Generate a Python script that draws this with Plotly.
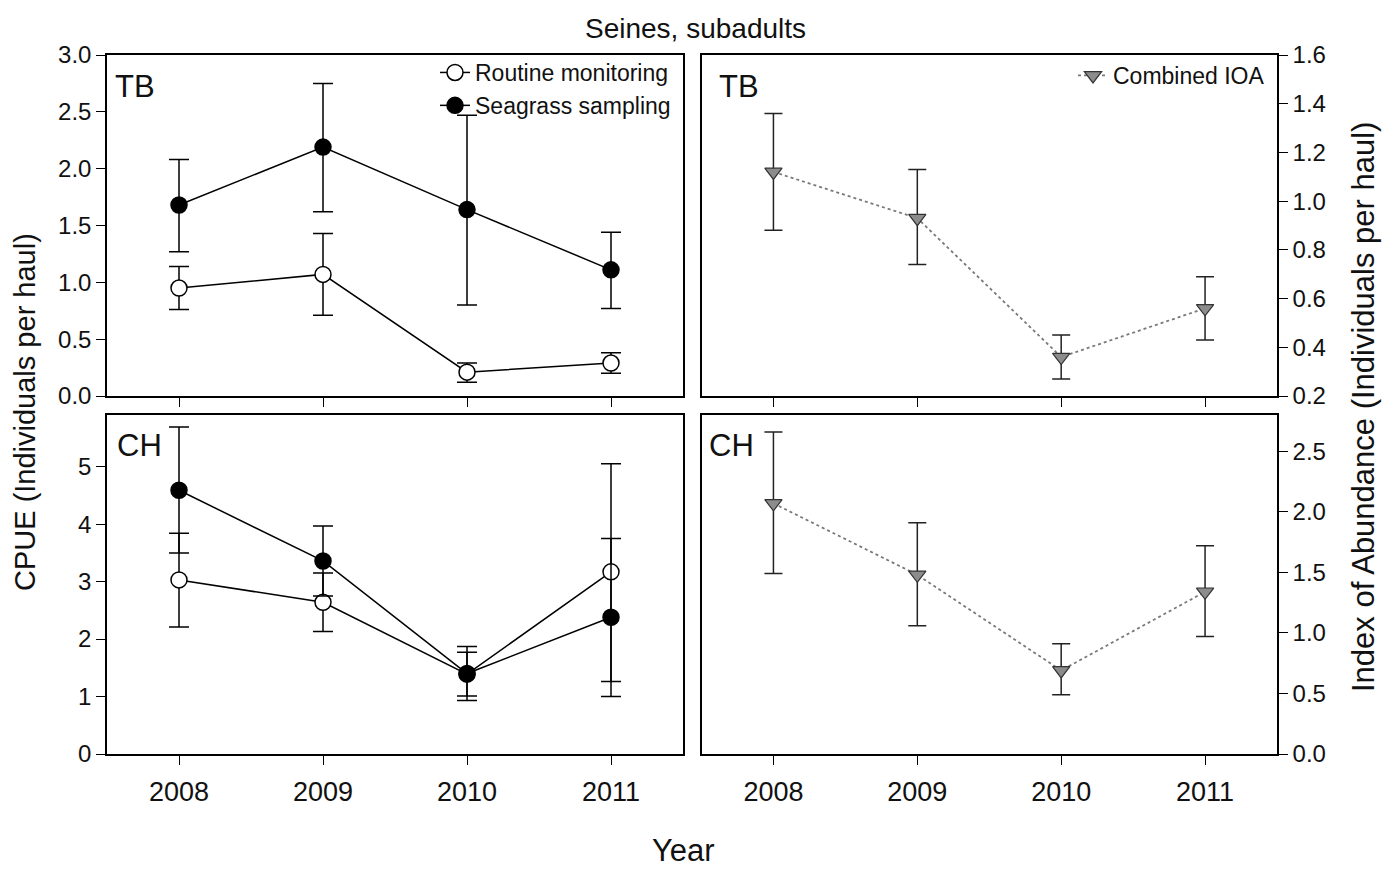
import plotly.graph_objects as go

W, H = 1382, 870
FONT = "Liberation Sans, Arial, Helvetica, sans-serif"

years = [2008, 2009, 2010, 2011]

# Tampa Bay (TB) CPUE
tb_routine = [0.95, 1.07, 0.21, 0.29]
tb_routine_up = [0.19, 0.36, 0.08, 0.09]
tb_routine_dn = [0.19, 0.36, 0.09, 0.09]
tb_seagrass = [1.68, 2.19, 1.64, 1.11]
tb_seagrass_up = [0.40, 0.56, 0.83, 0.33]
tb_seagrass_dn = [0.41, 0.57, 0.84, 0.34]

# Charlotte Harbor (CH) CPUE
ch_routine = [3.03, 2.64, 1.39, 3.17]
ch_routine_up = [0.81, 0.51, 0.38, 1.88]
ch_routine_dn = [0.82, 0.51, 0.38, 1.91]
ch_seagrass = [4.59, 3.36, 1.40, 2.38]
ch_seagrass_up = [1.10, 0.61, 0.47, 1.37]
ch_seagrass_dn = [1.09, 0.61, 0.47, 1.38]

# Combined index of abundance
tb_ioa = [1.12, 0.93, 0.36, 0.56]
tb_ioa_up = [0.24, 0.20, 0.09, 0.13]
tb_ioa_dn = [0.24, 0.19, 0.09, 0.13]
ch_ioa = [2.07, 1.48, 0.69, 1.34]
ch_ioa_up = [0.59, 0.43, 0.22, 0.38]
ch_ioa_dn = [0.58, 0.42, 0.20, 0.37]

# ---- layout geometry (pixels) ----
def fx(px):
    return px / W

def fy(py):
    return 1 - py / H

L_X = [fx(107), fx(683)]
R_X = [fx(701.5), fx(1277)]
T_Y = [fy(396), fy(55)]
B_Y = [fy(754), fy(415)]

fig = go.Figure()

def err(up, dn, width=10, color="black"):
    return dict(type="data", symmetric=False, array=up, arrayminus=dn,
                color=color, thickness=1.5, width=width)

open_marker = dict(symbol="circle", size=16, color="white", line=dict(color="black", width=1.5))
solid_marker = dict(symbol="circle", size=16, color="black", line=dict(color="black", width=1.5))
tri_marker = dict(symbol="triangle-down", size=15, color="#8c8c8c", line=dict(color="#333333", width=1.2))
solid_line = dict(color="black", width=1.5)
dot_line = dict(color="#7a7a7a", width=1.8, dash="dot")

# TB left panel
fig.add_trace(go.Scatter(x=years, y=tb_routine, mode="lines+markers", name="Routine monitoring",
                         marker=open_marker, line=solid_line,
                         error_y=err(tb_routine_up, tb_routine_dn),
                         xaxis="x", yaxis="y", legend="legend"))
fig.add_trace(go.Scatter(x=years, y=tb_seagrass, mode="lines+markers", name="Seagrass sampling",
                         marker=solid_marker, line=solid_line,
                         error_y=err(tb_seagrass_up, tb_seagrass_dn),
                         xaxis="x", yaxis="y", legend="legend"))
# CH left panel
fig.add_trace(go.Scatter(x=years, y=ch_routine, mode="lines+markers", name="Routine monitoring",
                         marker=open_marker, line=solid_line, showlegend=False,
                         error_y=err(ch_routine_up, ch_routine_dn),
                         xaxis="x2", yaxis="y2"))
fig.add_trace(go.Scatter(x=years, y=ch_seagrass, mode="lines+markers", name="Seagrass sampling",
                         marker=solid_marker, line=solid_line, showlegend=False,
                         error_y=err(ch_seagrass_up, ch_seagrass_dn),
                         xaxis="x2", yaxis="y2"))
# TB right panel
fig.add_trace(go.Scatter(x=years, y=tb_ioa, mode="lines+markers", name="Combined IOA",
                         marker=tri_marker, line=dot_line,
                         error_y=err(tb_ioa_up, tb_ioa_dn, width=9, color="#222222"),
                         xaxis="x3", yaxis="y3", legend="legend2"))
# CH right panel
fig.add_trace(go.Scatter(x=years, y=ch_ioa, mode="lines+markers", name="Combined IOA",
                         marker=tri_marker, line=dot_line, showlegend=False,
                         error_y=err(ch_ioa_up, ch_ioa_dn, width=9, color="#222222"),
                         xaxis="x4", yaxis="y4"))

def xax(domain, anchor, labels):
    return dict(domain=domain, anchor=anchor, range=[2007.5, 2011.5],
                tickvals=years, ticktext=[str(y) for y in years],
                showticklabels=labels, ticks="outside", ticklen=9, tickwidth=1.3,
                tickcolor="black", showline=True, linecolor="black", linewidth=1.5,
                mirror=True, showgrid=False, zeroline=False, automargin=False,
                ticklabelstandoff=4,
                tickfont=dict(family=FONT, size=27, color="#111111"))

def yax(domain, anchor, rng, dtick, fmt, side="left"):
    return dict(domain=domain, anchor=anchor, range=rng, dtick=dtick, tick0=0,
                tickformat=fmt, side=side, ticks="outside", ticklen=9, tickwidth=1.3,
                tickcolor="black", showline=True, linecolor="black", linewidth=1.5,
                mirror=True, showgrid=False, zeroline=False, automargin=False,
                tickfont=dict(family=FONT, size=24, color="#111111"))

fig.update_layout(
    width=W, height=H,
    margin=dict(l=0, r=0, t=0, b=0, autoexpand=False),
    paper_bgcolor="white", plot_bgcolor="white",
    font=dict(family=FONT, color="black"),
    xaxis=xax(L_X, "y", False),
    yaxis=yax(T_Y, "x", [0, 3.0], 0.5, ".1f"),
    xaxis2=xax(L_X, "y2", True),
    yaxis2=yax(B_Y, "x2", [0, 5.9], 1, "d"),
    xaxis3=xax(R_X, "y3", False),
    yaxis3=yax(T_Y, "x3", [0.2, 1.6], 0.2, ".1f", side="right"),
    xaxis4=xax(R_X, "y4", True),
    yaxis4=yax(B_Y, "x4", [0, 2.8], 0.5, ".1f", side="right"),
    legend=dict(x=fx(676), y=fy(51), xanchor="right", yanchor="top",
                bgcolor="rgba(0,0,0,0)", font=dict(family=FONT, size=23, color="#111111"),
                tracegroupgap=0, itemwidth=30),
    legend2=dict(x=fx(1270), y=fy(54), xanchor="right", yanchor="top",
                 bgcolor="rgba(0,0,0,0)", font=dict(family=FONT, size=23, color="#111111"),
                 itemwidth=30),
    showlegend=True,
)

annots = [
    dict(text="Seines, subadults", x=fx(695), y=fy(29), xref="paper", yref="paper",
         xanchor="center", yanchor="middle", font=dict(size=28)),
    dict(text="Year", x=fx(683), y=fy(850), xref="paper", yref="paper",
         xanchor="center", yanchor="middle", font=dict(size=31)),
    dict(text="CPUE (Individuals per haul)", x=fx(25), y=fy(412), xref="paper", yref="paper",
         xanchor="center", yanchor="middle", textangle=-90, font=dict(size=29)),
    dict(text="Index of Abundance (Individuals per haul)", x=fx(1363), y=fy(407), xref="paper",
         yref="paper", xanchor="center", yanchor="middle", textangle=-90, font=dict(size=31)),
    dict(text="TB", x=fx(113), y=fy(86), xref="paper", yref="paper",
         xanchor="left", yanchor="middle", font=dict(size=31)),
    dict(text="CH", x=fx(115), y=fy(446), xref="paper", yref="paper",
         xanchor="left", yanchor="middle", font=dict(size=31)),
    dict(text="TB", x=fx(717), y=fy(86), xref="paper", yref="paper",
         xanchor="left", yanchor="middle", font=dict(size=31)),
    dict(text="CH", x=fx(707), y=fy(446), xref="paper", yref="paper",
         xanchor="left", yanchor="middle", font=dict(size=31)),
]
for a in annots:
    a["showarrow"] = False
    a["font"]["family"] = FONT
    a["font"]["color"] = "#111111"
fig.update_layout(annotations=annots)

fig.write_html("out.html")
